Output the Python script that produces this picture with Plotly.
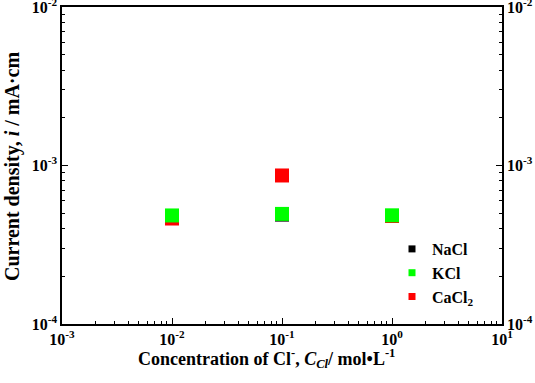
import plotly.graph_objects as go

conc = [0.01, 0.1, 1.0]
nacl = [4.80e-4, 4.90e-4, 4.80e-4]
kcl = [4.84e-4, 4.95e-4, 4.85e-4]
cacl2 = [4.63e-4, 8.65e-4, 4.80e-4]

series = [("NaCl", nacl, "#000000"), ("KCl", kcl, "#00ff00"), ("CaCl<sub>2</sub>", cacl2, "#ff0000")]
draw_order = [0, 2, 1]

x_tickvals = [1e-3, 1e-2, 1e-1, 1e0, 1e1]
x_ticktext = ["10<sup>-3</sup>", "10<sup>-2</sup>", "10<sup>-1</sup>", "10<sup>0</sup>", "10<sup>1</sup>"]
y_tickvals = [1e-4, 1e-3, 1e-2]
y_ticktext = ["10<sup>-4</sup>", "10<sup>-3</sup>", "10<sup>-2</sup>"]
x_minor = [k * 10.0 ** n for n in range(-3, 1) for k in range(2, 10)]
y_minor = [k * 10.0 ** n for n in range(-4, -2) for k in range(2, 10)]

FONT = "Liberation Serif, Times New Roman, serif"

fig = go.Figure()
for i in draw_order:
    name, vals, col = series[i]
    fig.add_trace(go.Scatter(x=conc, y=vals, mode="markers", name=name, showlegend=False,
                             marker=dict(symbol="square", size=14, color=col, line=dict(width=0))))
for name, vals, col in series:
    fig.add_trace(go.Scatter(x=[None], y=[None], mode="markers", name=name,
                             marker=dict(symbol="square", size=7, color=col, line=dict(width=0))))
for xa, ya in [("x2", "y"), ("x", "y2"), ("x", "y3"), ("x", "y4")]:
    fig.add_trace(go.Scatter(x=[None], y=[None], xaxis=xa, yaxis=ya, showlegend=False, hoverinfo="skip"))

tickfont = dict(family=FONT, size=16, color="black", weight="bold")
common = dict(showgrid=False, zeroline=False, tickcolor="black", tickwidth=1,
              ticklabeloverflow="allow", automargin=False)
fig.update_layout(
    width=535, height=383,
    margin=dict(l=62, r=33, t=7, b=59, autoexpand=False),
    paper_bgcolor="white", plot_bgcolor="white",
    font=dict(family=FONT, color="black"),
    xaxis=dict(type="log", range=[-3, 1], tickvals=x_tickvals, ticktext=x_ticktext,
               ticks="inside", ticklen=6, showline=True, linecolor="black", linewidth=1.5,
               mirror=True, tickfont=tickfont, **common),
    xaxis2=dict(type="log", range=[-3, 1], overlaying="x", side="bottom", tickvals=x_minor,
                ticks="inside", ticklen=3, showticklabels=False, showline=False, **common),
    yaxis=dict(type="log", range=[-4, -2], tickvals=y_tickvals, ticktext=y_ticktext,
               ticks="inside", ticklen=6, showline=True, linecolor="black", linewidth=1.5,
               tickfont=tickfont, **common),
    yaxis2=dict(type="log", range=[-4, -2], overlaying="y", side="right",
                tickvals=y_tickvals, ticktext=y_ticktext, ticks="inside", ticklen=6,
                showline=True, linecolor="black", linewidth=1.5, tickfont=tickfont, **common),
    yaxis3=dict(type="log", range=[-4, -2], overlaying="y", side="left", tickvals=y_minor,
                ticks="inside", ticklen=3, showticklabels=False, showline=False, **common),
    yaxis4=dict(type="log", range=[-4, -2], overlaying="y", side="right", tickvals=y_minor,
                ticks="inside", ticklen=3, showticklabels=False, showline=False, **common),
    legend=dict(x=(392 - 62) / 440, y=(324 - 232) / 317, xanchor="left", yanchor="top",
                bgcolor="rgba(0,0,0,0)",
                font=dict(family=FONT, size=16, color="black", weight="bold"),
                tracegroupgap=0, itemwidth=30),
    annotations=[
        dict(text="Concentration of Cl<sup>-</sup>, <i>C</i><sub><i>Cl</i></sub>/ mol\u2022L<sup>-1</sup>",
             xref="paper", yref="paper", x=(266 - 62) / 440, y=-(358 - 324) / 317,
             xanchor="center", yanchor="middle", showarrow=False,
             font=dict(family=FONT, size=18, color="black", weight="bold")),
        dict(text="Current density, <i>i</i> / mA\u00b7cm",
             xref="paper", yref="paper", x=-(62 - 12) / 440, y=(324 - 167) / 317,
             xanchor="center", yanchor="middle", textangle=-90, showarrow=False,
             font=dict(family=FONT, size=20, color="black", weight="bold")),
    ],
)
fig.write_html("out.html")
